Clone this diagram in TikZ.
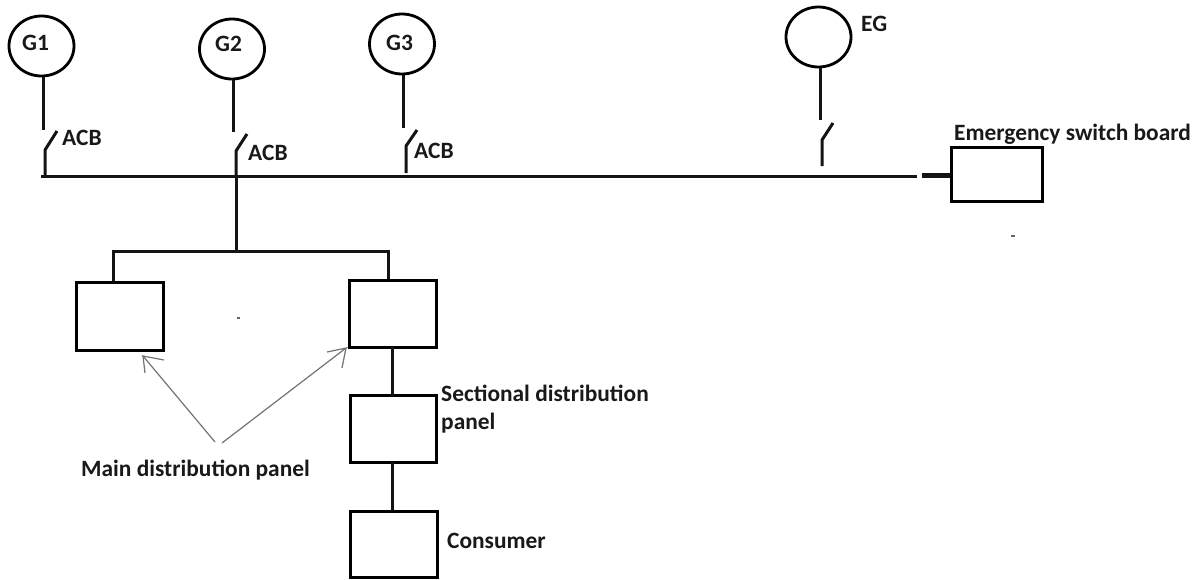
\documentclass[tikz,border=0pt]{standalone}
\usepackage{fontspec}
\setmainfont{Carlito}
\usetikzlibrary{shapes.geometric}
\tikzset{
  gen/.style={ellipse,draw=black,line width=2.8pt,minimum width=65pt,minimum height=60pt,inner sep=0pt},
  panel/.style={rectangle,draw=black,line width=3pt,inner sep=0pt},
  wire/.style={draw=black!92,line width=3pt},
  lbl/.style={font=\fontsize{23.4}{26}\selectfont\bfseries,text=black!90,inner sep=0pt,anchor=west},
  pointer/.style={draw=black!55,line width=1.2pt},
}
\begin{document}
\begin{tikzpicture}[x=1pt,y=-1pt]
\useasboundingbox (0,0) rectangle (1204,579);
% generators
\node[gen] (g1) at (41.5,46) {};
\node[gen] (g2) at (232,49) {};
\node[gen] (g3) at (402,44) {};
\node[gen] (eg) at (818.5,37) {};
% panels
\node[panel,minimum width=87pt,minimum height=68pt] (m1) at (119.5,316) {};
\node[panel,minimum width=87pt,minimum height=67pt] (m2) at (392.5,313.5) {};
\node[panel,minimum width=86pt,minimum height=67pt] (s) at (393,428.5) {};
\node[panel,minimum width=87pt,minimum height=66pt] (c) at (393.5,544) {};
\node[panel,minimum width=91pt,minimum height=54pt] (esb) at (996.5,174) {};
% coordinates
\coordinate (a1) at (43,130); \coordinate (b1) at (57,131); \coordinate (h1) at (45,150); \coordinate (t1) at (45,176);
\coordinate (a2) at (233,132); \coordinate (b2) at (247,134); \coordinate (h2) at (236,151); \coordinate (t2) at (236,176);
\coordinate (a3) at (403.5,128); \coordinate (b3) at (417,130); \coordinate (h3) at (406,146); \coordinate (t3) at (406,173);
\coordinate (a4) at (820,120); \coordinate (b4) at (833,123); \coordinate (h4) at (822,140); \coordinate (t4) at (822,166);
\coordinate (busl) at (41,176); \coordinate (busr) at (917,176);
\coordinate (tap) at (236,251); \coordinate (fl) at (113,251); \coordinate (fr) at (388,251);
% wires
\draw[wire] (g1.south -| a1) -- (a1);
\draw[wire] (b1) -- (h1) -- (t1);
\draw[wire] (g2.south -| a2) -- (a2);
\draw[wire] (b2) -- (h2) -- (t2);
\draw[wire] (g3.south -| a3) -- (a3);
\draw[wire] (b3) -- (h3) -- (t3);
\draw[wire] (eg.south -| a4) -- (a4);
\draw[wire] (b4) -- (h4) -- (t4);
\draw[wire] (busl) -- (busr);
\draw[wire,line width=4.5pt] (922,175.5) -- (esb.west |- 0,175.5);
\draw[wire] (t2) -- (tap);
\draw[wire] (m1.north -| fl) -- (fl) -- (fr) -- (m2.north -| fr);
\draw[wire] (392,347) -- (392,396);
\draw[wire] (392,462) -- (392,511);
% pointers
\coordinate (p0) at (215,442); \coordinate (p1) at (143,356);
\coordinate (q0) at (222,443); \coordinate (q1) at (346,348);
\draw[pointer] (p0) -- (p1) -- (164,360);
\draw[pointer] (p1) -- (145,373);
\draw[pointer] (q0) -- (q1) -- (327,352);
\draw[pointer] (q1) -- (342,368);
% specks
\fill[black!60] (237,317) rectangle (240,319);
\fill[black!60] (1011,235) rectangle (1015,237);
% labels
\node[lbl] (tg1) at (22,43) {G1};
\node[lbl] (tg2) at (215,44) {G2};
\node[lbl] (tg3) at (386,43) {G3};
\node[lbl] (teg) at (861,24) {EG};
\node[lbl] (ta1) at (62,138) {ACB};
\node[lbl] (ta2) at (248,153) {ACB};
\node[lbl] (ta3) at (414,151) {ACB};
\node[lbl] (tesb) at (954,134) {Emergency switch board};
\node[lbl] (tsd) at (441,393) {Sectional distribution};
\node[lbl] (tsd2) at (441,423) {panel};
\node[lbl] (tmd) at (81,470) {Main distribution panel};
\node[lbl] (tc) at (447,541) {Consumer};
\end{tikzpicture}
\end{document}
